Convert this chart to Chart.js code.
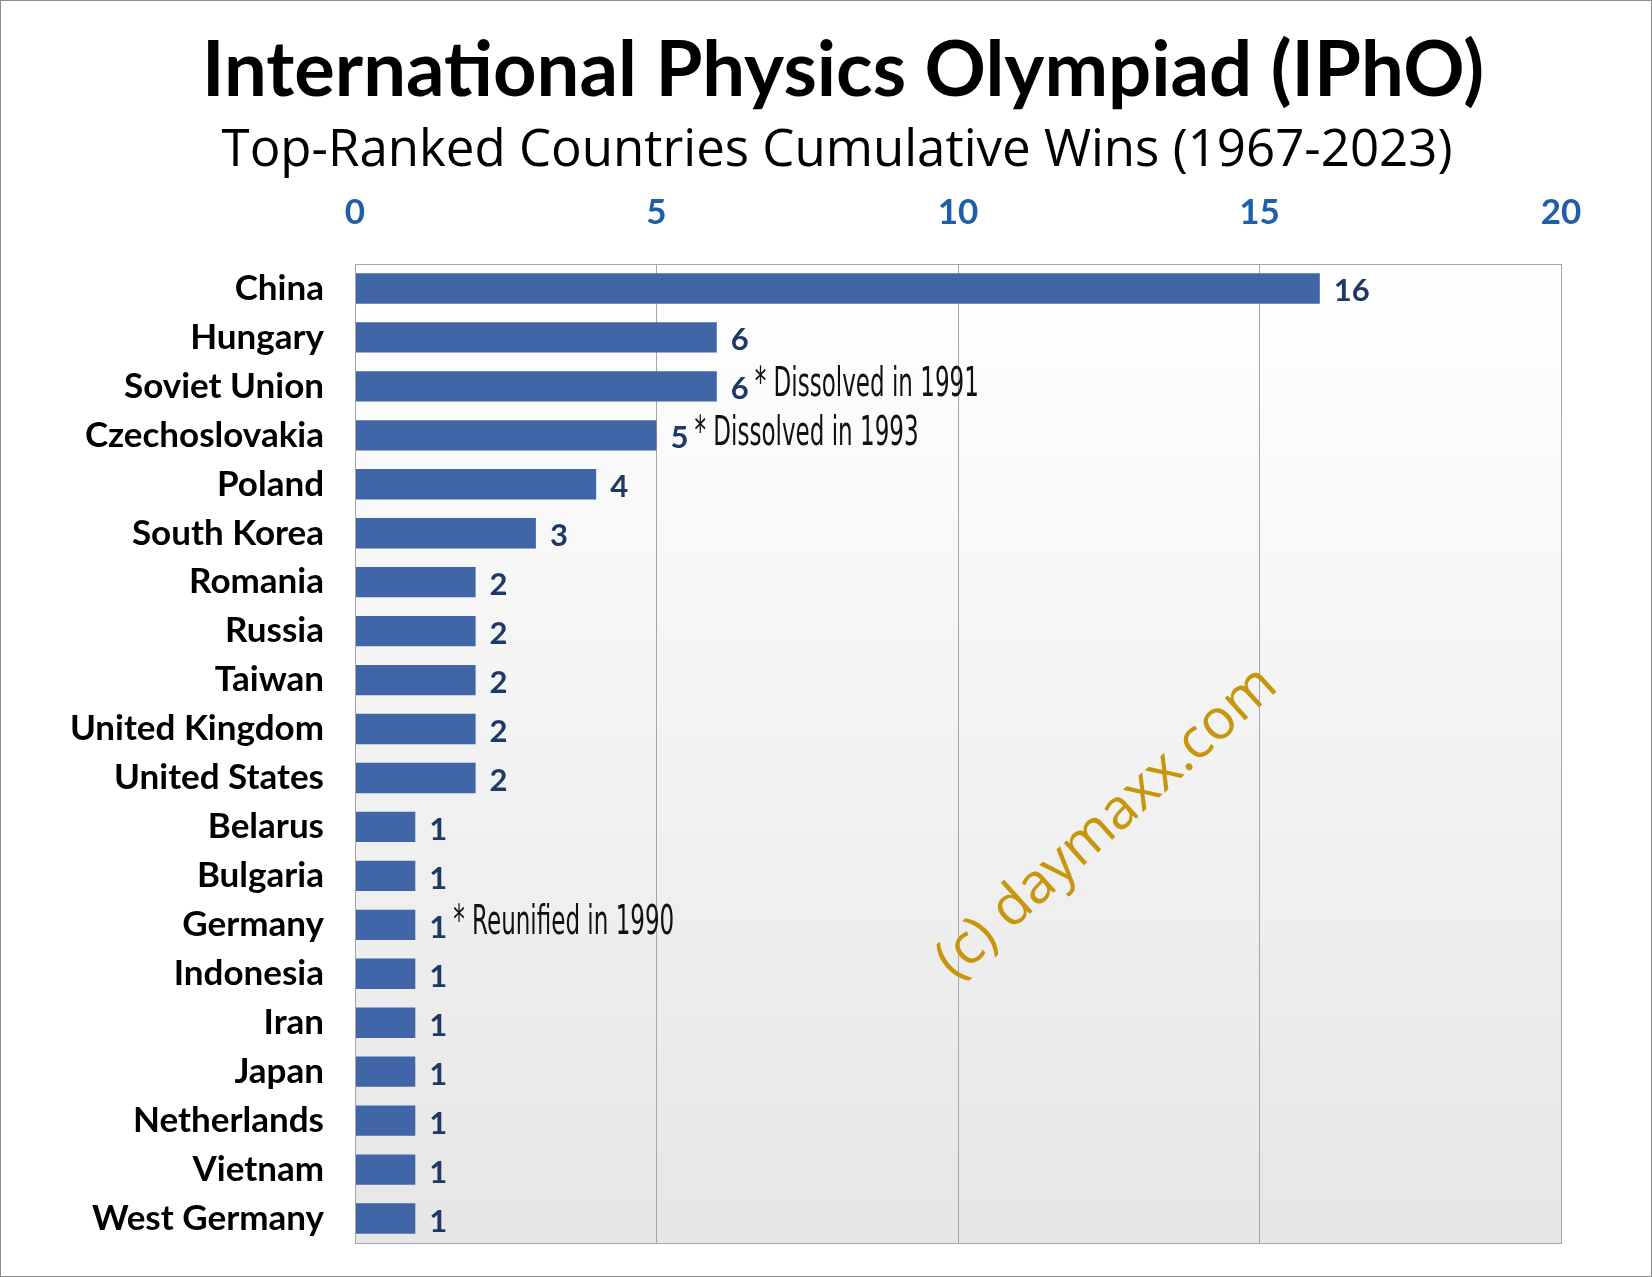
<!DOCTYPE html>
<html>
<head>
<meta charset="utf-8">
<script src="https://cdn.jsdelivr.net/npm/chart.js@4"></script>
<style>
  html, body { margin: 0; padding: 0; background: #fff; }
  #wrap { position: relative; width: 1650px; height: 1275px; border: 1px solid #8c8c8c; overflow: hidden; }
</style>
</head>
<body>
<div id="wrap"><canvas id="chart" width="1650" height="1286"></canvas></div>
<script>
// Chart data
const countries = ["China", "Hungary", "Soviet Union", "Czechoslovakia", "Poland", "South Korea",
  "Romania", "Russia", "Taiwan", "United Kingdom", "United States", "Belarus", "Bulgaria",
  "Germany", "Indonesia", "Iran", "Japan", "Netherlands", "Vietnam", "West Germany"];
const wins = [16, 6, 6, 5, 4, 3, 2, 2, 2, 2, 2, 1, 1, 1, 1, 1, 1, 1, 1, 1];
const notes = ["", "", "* Dissolved in 1991", "* Dissolved in 1993", "", "", "", "", "", "", "",
  "", "", "* Reunified in 1990", "", "", "", "", "", ""];
const xTicks = [0, 5, 10, 15, 20];

const titleText = "International Physics Olympiad (IPhO)";
const subtitleText = "Top-Ranked Countries Cumulative Wins (1967-2023)";

/**
 * Titles, plot background, value labels, notes and watermark
 */
const decorPlugin = {
  id: "decor",
  beforeDraw(chart) {
    const { ctx, chartArea: a } = chart;
    const g = ctx.createLinearGradient(0, a.top, 0, a.bottom);
    g.addColorStop(0, "#ffffff");
    g.addColorStop(1, "#e6e6e6");
    ctx.save();
    ctx.fillStyle = g;
    ctx.fillRect(a.left, a.top, a.right - a.left, a.bottom - a.top);
    ctx.restore();
  },
  afterDraw(chart) {
    const { ctx, chartArea: a } = chart;
    ctx.save();
    ctx.strokeStyle = "#a6a6a6";
    ctx.lineWidth = 1;
    ctx.strokeRect(a.left + 0.5, a.top + 0.5, a.right - a.left, a.bottom - a.top);

    ctx.textAlign = "center";
    ctx.textBaseline = "middle";
    ctx.fillStyle = "#000";
    ctx.font = "bold 76px Lato";
    ctx.fillText(titleText, 842, 70);
    ctx.font = "51px 'Open Sans'";
    ctx.fillText(subtitleText, 836, 150);

    const meta = chart.getDatasetMeta(0);
    meta.data.forEach((bar, i) => {
      ctx.textAlign = "left";
      ctx.fillStyle = "#1f3864";
      ctx.font = "bold 31px Lato";
      const txt = String(wins[i]);
      const x = bar.x + 14;
      ctx.fillText(txt, x, bar.y + 3);
      if (notes[i]) {
        const w = ctx.measureText(txt).width;
        ctx.fillStyle = "#111";
        ctx.font = "40px 'DejaVu Sans Condensed'";
        ctx.save();
        ctx.translate(x + w + 6, bar.y - 1);
        ctx.scale(0.64, 1);
        ctx.fillText(notes[i], 0, 0);
        ctx.restore();
      }
    });

    ctx.translate(1106, 822);
    ctx.rotate(-42 * Math.PI / 180);
    ctx.textAlign = "center";
    ctx.fillStyle = "#c8960c";
    ctx.font = "56px 'Open Sans'";
    ctx.fillText("(c) daymaxx.com", 0, 0);
    ctx.restore();
  },
};

new Chart(document.getElementById("chart").getContext("2d"), {
  type: "bar",
  data: {
    labels: countries,
    datasets: [{
      data: wins,
      backgroundColor: "#4166a8",
      borderWidth: 0,
      barPercentage: 0.62,
      categoryPercentage: 1,
    }],
  },
  options: {
    indexAxis: "y",
    responsive: false,
    animation: false,
    layout: { padding: { top: 193, right: 90, bottom: 0, left: 0 } },
    plugins: { legend: { display: false }, tooltip: { enabled: false } },
    scales: {
      x: {
        position: "top",
        min: 0,
        max: 20,
        afterBuildTicks: (s) => { s.ticks = xTicks.map((v) => ({ value: v })); },
        afterFit: (s) => { s.height = 70; },
        grid: { color: "#a6a6a6", drawTicks: false },
        border: { display: false },
        ticks: { color: "#1f5fa8", font: { family: "Lato", weight: "bold", size: 35 }, padding: 30 },
      },
      y: {
        afterFit: (s) => { s.width = 354; },
        grid: { display: false },
        border: { display: false },
        ticks: { color: "#000", font: { family: "Lato", weight: "bold", size: 35 }, padding: 23 },
      },
    },
  },
  plugins: [decorPlugin],
});
</script>
</body>
</html>
